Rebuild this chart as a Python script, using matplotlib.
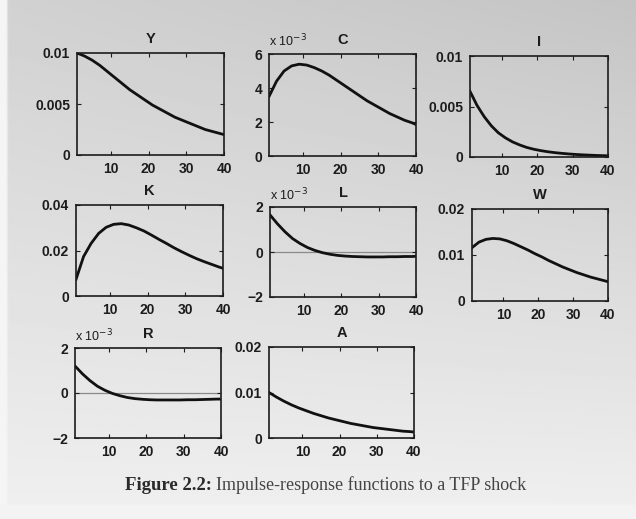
import numpy as np
import matplotlib
matplotlib.use("Agg")
import matplotlib.pyplot as plt

# periods at which the curves were read
periods = [1, 3, 5, 7, 9, 11, 13, 15, 17, 19, 21, 23, 25, 27, 29, 31, 33, 35, 37, 39, 40]

Y = [0.0100, 0.0097, 0.0093, 0.0088, 0.0082, 0.0076, 0.0070, 0.0064, 0.0059, 0.0054,
     0.0049, 0.0045, 0.0041, 0.0037, 0.0034, 0.0031, 0.0028, 0.0025, 0.0023, 0.0021, 0.0020]
C_e3 = [3.5, 4.4, 5.0, 5.3, 5.4, 5.35, 5.2, 5.0, 4.75, 4.45,
        4.15, 3.85, 3.55, 3.25, 3.0, 2.75, 2.5, 2.3, 2.1, 1.95, 1.85]
I = [0.0065, 0.0051, 0.0040, 0.0031, 0.0024, 0.0019, 0.0015, 0.0012, 0.00095, 0.00077,
     0.00063, 0.00052, 0.00043, 0.00036, 0.00030, 0.00025, 0.00021, 0.00018, 0.00015, 0.00013, 0.00012]
K = [0.0073, 0.0173, 0.0231, 0.0275, 0.0302, 0.0315, 0.0318, 0.0312, 0.0300, 0.0286,
     0.0268, 0.0249, 0.0231, 0.0212, 0.0195, 0.0179, 0.0164, 0.0151, 0.0139, 0.0127, 0.0122]
L_e3 = [1.65, 1.25, 0.9, 0.6, 0.38, 0.2, 0.07, -0.03, -0.1, -0.15,
        -0.18, -0.2, -0.21, -0.22, -0.22, -0.22, -0.21, -0.21, -0.2, -0.2, -0.19]
W = [0.0116, 0.0128, 0.0134, 0.0136, 0.0135, 0.0131, 0.0125, 0.0118, 0.0111, 0.0103,
     0.0096, 0.0088, 0.0081, 0.0074, 0.0068, 0.0062, 0.0057, 0.0052, 0.0048, 0.0044, 0.0042]
R_e3 = [1.2, 0.85, 0.55, 0.3, 0.12, -0.02, -0.12, -0.2, -0.25, -0.28,
        -0.3, -0.31, -0.31, -0.31, -0.31, -0.3, -0.3, -0.29, -0.28, -0.27, -0.27]
A = [0.0100, 0.0090, 0.0081, 0.0073, 0.0066, 0.0060, 0.0054, 0.0049, 0.0044, 0.0040,
     0.0036, 0.0032, 0.0029, 0.0026, 0.0023, 0.0021, 0.0019, 0.0017, 0.0015, 0.0014, 0.0013]

x_ticks = [10, 20, 30, 40]

panels = [
    # name, data, yticks, yticklabels, scaled, zero line, rect (px: left, top, right, bottom)
    ("Y", Y, [0, 0.005, 0.01], ["0", "0.005", "0.01"], False, False, (77, 53, 224, 155)),
    ("C", C_e3, [0, 2, 4, 6], ["0", "2", "4", "6"], True, False, (269, 54, 416, 156)),
    ("I", I, [0, 0.005, 0.01], ["0", "0.005", "0.01"], False, False, (470, 56, 608, 157)),
    ("K", K, [0, 0.02, 0.04], ["0", "0.02", "0.04"], False, False, (76, 205, 223, 296)),
    ("L", L_e3, [-2, 0, 2], ["\u22122", "0", "2"], True, True, (270, 207, 416, 297)),
    ("W", W, [0, 0.01, 0.02], ["0", "0.01", "0.02"], False, False, (472, 209, 608, 301)),
    ("R", R_e3, [-2, 0, 2], ["\u22122", "0", "2"], True, True, (75, 348, 221, 438)),
    ("A", A, [0, 0.01, 0.02], ["0", "0.01", "0.02"], False, False, (269, 347, 414, 438)),
]

W_PX, H_PX = 636, 519
fig = plt.figure(figsize=(W_PX / 100, H_PX / 100), dpi=100)

# paper-like background (photo of a book page)
bg = fig.add_axes([0, 0, 1, 1], zorder=-10)
vert = np.linspace(0, 1, 256)[:, None] * np.ones((1, 256))   # 0 top -> 1 bottom
horiz = np.ones((256, 1)) * np.linspace(0, 1, 256)[None, :]
shade = 0.82 + 0.12 * vert - 0.05 * horiz * (1 - vert)
shade[:, :3] = 0.96
shade[-7:, :] = 0.95
bg.imshow(shade, cmap="gray", vmin=0, vmax=1, aspect="auto", extent=[0, 1, 0, 1],
          interpolation="bilinear")
bg.axis("off")

font = "Liberation Sans"
ink = "#1c1c1c"
for name, data, yt, ytl, scaled, zline, (l, tp, r, b) in panels:
    ax = fig.add_axes([l / W_PX, 1 - b / H_PX, (r - l) / W_PX, (b - tp) / H_PX])
    ax.patch.set_alpha(0)
    if zline:
        ax.axhline(0, color="#8a8a8a", lw=0.9, zorder=1)
    ax.plot(periods, data, color="#111111", lw=2.0, zorder=2)
    ax.set_xlim(1, 40)
    ax.set_ylim(yt[0], yt[-1])
    ax.set_xticks(x_ticks)
    ax.set_yticks(yt)
    ax.set_yticklabels(ytl)
    ax.tick_params(direction="in", length=3, width=0.8, top=True, right=True,
                   labelsize=10, pad=5, colors=ink)
    for lab in ax.get_xticklabels() + ax.get_yticklabels():
        lab.set_fontfamily(font)
        lab.set_fontweight("bold")
    for sp in ax.spines.values():
        sp.set_linewidth(1.2)
        sp.set_color(ink)
    ax.set_title(name, fontsize=10.5, fontfamily=font, fontweight="bold",
                 color=ink, pad=7)
    if scaled:
        ax.text(0.0, 1.045, r"x 10$^{-3}$", transform=ax.transAxes, ha="left",
                va="bottom", fontsize=9, fontfamily=font, color=ink)

fig.text(125 / W_PX, 1 - 485 / H_PX, "Figure 2.2:", fontsize=13.5,
         fontfamily="Liberation Serif", fontweight="bold", color="#2a2a2a",
         ha="left", va="center")
fig.text(216 / W_PX, 1 - 485 / H_PX, "Impulse-response functions to a TFP shock",
         fontsize=13, fontfamily="Liberation Serif", color="#444444",
         ha="left", va="center")

fig.savefig("out.png", dpi=100)
